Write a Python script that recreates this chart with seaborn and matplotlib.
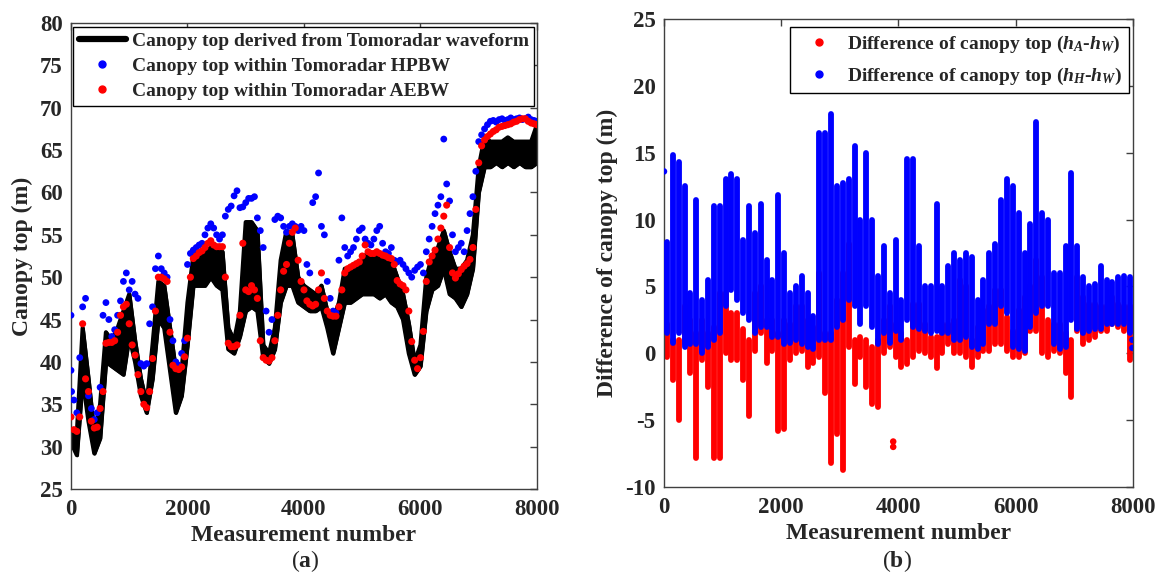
import matplotlib
matplotlib.use("Agg")
import matplotlib.pyplot as plt
import numpy as np
import pandas as pd
import seaborn as sns
from matplotlib.lines import Line2D

# ---------------- Panel (a) data ----------------
meas_100 = list(range(0, 8001, 100))
wave_lo = [30.5, 29.0, 38.0, 33.0, 29.2, 31.0, 40.0, 39.5, 39.0, 38.5, 43.0,
           40.0, 36.0, 34.0, 38.0, 45.0, 44.0, 39.0, 34.0, 36.0, 42.0,
           49.0, 49.0, 49.0, 50.0, 49.0, 48.5, 41.5, 41.0, 43.0, 46.0,
           46.5, 46.0, 40.5, 39.8, 41.5, 47.0, 49.0, 49.0, 47.0, 46.5,
           46.0, 46.0, 46.5, 44.0, 41.0, 44.0, 47.0, 47.0, 47.5, 48.0,
           48.0, 48.0, 47.5, 48.0, 47.0, 46.5, 45.0, 41.0, 38.5, 39.5,
           46.0, 48.5, 49.0, 51.0, 48.0, 47.5, 46.5, 48.0, 51.0, 60.0,
           63.0, 63.0, 63.5, 63.0, 63.5, 63.0, 63.5, 63.0, 63.0, 63.5]
wave_hi = [32.0, 31.5, 44.0, 38.0, 31.5, 35.0, 43.5, 42.5, 44.0, 46.0, 48.0,
           42.5, 38.0, 35.0, 42.0, 49.5, 49.0, 44.0, 39.0, 39.0, 47.0,
           52.5, 53.0, 53.0, 53.5, 53.0, 53.0, 44.0, 42.5, 46.0, 56.5,
           56.5, 55.5, 42.0, 41.0, 44.0, 52.0, 55.5, 55.0, 50.0, 49.0,
           48.5, 48.0, 49.0, 46.0, 45.0, 47.0, 51.0, 51.0, 51.5, 52.0,
           53.0, 52.5, 52.5, 52.5, 52.0, 50.0, 48.0, 44.5, 40.0, 42.0,
           50.0, 52.5, 53.5, 55.5, 53.0, 51.0, 51.0, 52.0, 55.0, 63.0,
           66.5, 66.0, 66.0, 66.0, 66.5, 66.0, 66.0, 66.0, 66.0, 68.0]

meas_50 = list(range(0, 8001, 50))
aebw = [33.5, 32.0, 31.8, 33.5, 44.5, 38.0, 36.5, 33.0, 32.2, 32.3,
        34.5, 36.5, 42.2, 42.3, 42.3, 42.5, 43.5, 45.5, 46.5, 46.8,
        44.5, 42.0, 40.8, 38.5, 36.5, 35.0, 34.6, 36.5, 40.4, 46.0,
        50.0, 50.0, 49.8, 49.5, 43.5, 39.6, 39.2, 39.1, 39.4, 40.6,
        42.8, 50.0, 52.2, 52.5, 52.9, 53.1, 53.5, 54.0, 54.3, 53.8,
        53.6, 53.6, 53.6, 50.0, 42.2, 41.8, 41.8, 42.0, 45.5, 54.0,
        48.5, 48.3, 49.0, 48.5, 47.5, 42.5, 40.5, 40.2, 40.1, 40.5,
        42.5, 45.5, 48.5, 50.7, 51.5, 54.0, 55.3, 55.8, 52.0, 49.5,
        48.5, 47.2, 46.8, 46.6, 46.8, 48.5, 50.5, 47.5, 46.0, 45.5,
        45.4, 45.4, 46.5, 48.5, 50.5, 51.0, 51.2, 51.4, 51.6, 51.8,
        52.5, 53.8, 53.0, 52.8, 52.8, 53.0, 52.8, 52.6, 52.5, 52.3,
        52.2, 51.5, 49.6, 49.2, 49.0, 48.5, 46.0, 42.4, 40.2, 39.2,
        40.5, 43.6, 49.5, 51.8, 52.5, 53.2, 54.5, 55.8, 57.2, 58.5,
        53.5, 50.5, 49.9, 50.4, 50.9, 51.3, 51.6, 52.1, 53.5, 58.0,
        63.5, 65.5, 66.2, 66.6, 66.9, 67.2, 67.4, 67.7, 67.8, 67.9,
        68.0, 68.1, 68.3, 68.4, 68.6, 68.7, 68.7, 68.4, 68.2, 68.1,
        68.0]
hpbw = [39.0, 35.5, 34.0, 40.5, 46.5, 47.5, 36.0, 34.5, 33.2, 34.0,
        37.0, 45.5, 47.0, 45.0, 43.0, 43.8, 45.5, 47.2, 49.5, 50.5,
        48.5, 49.5, 48.0, 47.5, 39.8, 39.5, 39.8, 44.5, 46.5, 51.0,
        52.5, 51.0, 50.5, 50.0, 45.0, 42.5, 40.0, 39.6, 41.0, 42.5,
        51.5, 52.8, 53.2, 53.5, 53.8, 54.0, 55.0, 55.8, 56.3, 55.8,
        55.0, 54.5, 55.0, 57.2, 58.0, 58.4, 59.6, 60.2, 58.2, 58.3,
        58.8, 59.3, 59.3, 59.5, 57.0, 55.5, 53.5, 46.0, 43.5, 45.0,
        56.8, 57.2, 57.0, 56.0, 55.3, 56.0, 56.3, 56.0, 55.5, 56.0,
        55.5, 51.5, 50.5, 58.8, 59.5, 62.3, 56.0, 55.0, 49.5, 47.5,
        46.0, 45.8, 52.0, 57.0, 53.5, 52.5, 53.0, 53.5, 54.5, 55.5,
        55.8, 54.5, 54.0, 53.8, 54.5, 55.5, 56.0, 54.0, 53.0, 52.8,
        53.5, 52.0, 51.8, 52.0, 51.5, 51.0, 50.5, 50.0, 50.8, 51.2,
        51.5, 50.5, 53.0, 54.5, 56.0, 57.5, 58.5, 59.5, 66.3, 61.0,
        59.0, 55.0, 53.0, 53.5, 54.0, 53.0, 55.5, 57.5, 59.5, 62.5,
        66.0, 66.8, 67.5, 68.0, 68.4, 68.5, 68.3, 68.6, 68.7, 68.5,
        68.6, 68.8, 68.6, 68.7, 68.8, 68.6, 68.7, 68.9, 68.6, 68.5,
        68.4]
hpbw_extra_m = [0, 10]
hpbw_extra_v = [45.5, 36.5]

# ---------------- Panel (b) data (per 100-measurement bin) ----------------
bin_center = list(range(50, 8000, 100))
dH_lo = [1.5, 0.8, 1.5, 0.5, 0.7, 0.7, 0.0, 0.5, 1.0, 1.5,
         3.5, 4.7, 4.0, 3.0, 2.5, 1.5, 2.0, 2.0, 1.2, 1.2,
         0.7, 0.8, 1.0, 0.7, 0.5, 0.3, 1.0, 1.0, 1.0, 2.0,
         2.5, 4.0, 3.5, 2.2, 3.5, 2.0, 0.7, 1.5, 0.8, 1.7,
         1.0, 2.5, 2.0, 1.8, 1.7, 1.5, 1.7, 1.5, 1.5, 1.0,
         1.0, 1.2, 0.5, 0.3, 0.7, 2.2, 2.2, 3.5, 3.0, 0.5,
         0.3, 0.2, 2.0, 3.0, 3.5, 3.5, 0.7, 0.3, 0.5, 2.5,
         1.8, 1.5, 1.7, 1.8, 1.8, 2.2, 2.2, 2.2, 2.2, 1.5]
dH_hi = [8.3, 14.8, 14.3, 12.5, 4.5, 11.5, 4.0, 5.5, 11.0, 11.0,
         13.0, 13.4, 13.0, 8.5, 11.0, 9.0, 11.2, 7.0, 5.5, 11.8,
         7.5, 4.5, 5.0, 5.8, 4.5, 2.8, 16.5, 16.5, 17.9, 12.5,
         12.7, 13.0, 15.5, 10.0, 15.0, 10.0, 5.8, 8.0, 4.5, 8.5,
         4.0, 14.5, 14.5, 8.0, 5.0, 5.0, 11.2, 5.0, 6.5, 7.5,
         7.0, 7.5, 7.2, 4.0, 5.5, 7.5, 8.2, 11.5, 13.0, 12.5,
         10.5, 7.5, 9.7, 17.3, 10.5, 10.0, 6.0, 6.0, 8.0, 13.5,
         8.0, 5.7, 5.0, 5.2, 6.5, 5.5, 5.3, 5.7, 5.8, 5.7]
dA_lo = [-0.3, -2.0, -5.0, 0.7, -1.5, -7.8, -0.5, -2.5, -7.8, -7.8,
         0.0, -0.5, -0.5, -2.0, -4.7, 0.2, 1.5, -0.7, 0.2, -5.8,
         -5.7, -0.5, 0.0, 0.2, -1.0, -0.7, -0.3, -3.0, -8.2, -6.0,
         -8.7, 0.5, -2.3, -0.3, -2.5, -3.8, -4.0, 0.0, 0.5, -0.3,
         -1.0, -0.8, -0.3, 0.2, 0.0, -0.3, -1.1, 0.0, 0.7, 0.0,
         0.0, -0.3, -1.0, -0.3, 0.2, 0.2, 0.7, 0.7, 0.2, -0.3,
         -0.3, 0.0, 1.7, 1.7, 0.0, -0.3, 0.2, 0.0, -1.5, -3.3,
         1.7, 0.7, 1.0, 1.2, 1.7, 1.7, 2.2, 2.0, 1.7, -0.5]
dA_hi = [2.2, 1.0, 1.0, 3.5, 2.5, 1.5, 2.5, 1.5, 2.0, 4.5,
         4.5, 3.0, 3.0, 1.8, 1.0, 4.5, 5.0, 2.5, 2.5, 1.5,
         2.5, 2.2, 3.5, 3.5, 2.5, 2.0, 6.0, 1.5, 1.5, 4.0,
         6.0, 8.2, 1.0, 1.2, 1.0, 0.5, 1.0, 2.5, 3.5, 2.2,
         1.5, 1.0, 3.7, 3.7, 2.2, 1.2, 1.2, 2.2, 2.2, 2.5,
         5.5, 5.0, 1.0, 2.0, 3.2, 3.5, 4.7, 4.7, 2.7, 1.7,
         3.2, 4.2, 5.0, 7.0, 5.7, 2.5, 2.2, 2.2, 1.5, 1.0,
         5.7, 4.2, 3.7, 3.7, 3.5, 3.5, 4.2, 3.7, 3.5, 3.5]
dH_extra_m = [0, 7990, 7990]
dH_extra_v = [13.6, 1.0, 0.4]
dA_extra_m = [3910, 3910]
dA_extra_v = [-6.6, -7.0]

xticks = [0, 2000, 4000, 6000, 8000]
yticks_a = list(range(25, 81, 5))
yticks_b = list(range(-10, 26, 5))

# ---------------- Style ----------------
sns.set_theme(style="white")
plt.rcParams.update({
    "font.family": ["Liberation Serif", "DejaVu Serif"],
    "font.weight": "bold",
    "axes.labelweight": "bold",
    "mathtext.fontset": "custom",
    "mathtext.rm": "Liberation Serif:bold",
    "mathtext.it": "Liberation Serif:italic:bold",
    "mathtext.bf": "Liberation Serif:bold",
    "axes.unicode_minus": False,
})
TXT = "#262626"
SPINE = "#404040"

fig = plt.figure(figsize=(11.6, 5.84), dpi=100)
axA = fig.add_axes([0.0612, 0.1627, 0.4017, 0.7979])
axB = fig.add_axes([0.5724, 0.1661, 0.4043, 0.8014])

# ---- Panel (a)
axA.fill_between(meas_100, wave_lo, wave_hi, color="black", lw=2.5,
                 edgecolor="black", zorder=2)
sns.lineplot(x=meas_100, y=wave_lo, ax=axA, color="black", lw=3, zorder=2)
sns.lineplot(x=meas_100, y=wave_hi, ax=axA, color="black", lw=3, zorder=2)
sns.scatterplot(x=meas_50, y=hpbw, ax=axA, color="blue", s=24,
                edgecolor="none", linewidth=0, zorder=3)
sns.scatterplot(x=hpbw_extra_m, y=hpbw_extra_v, ax=axA, color="blue", s=24,
                edgecolor="none", linewidth=0, zorder=3)
sns.scatterplot(x=meas_50, y=aebw, ax=axA, color="red", s=26,
                edgecolor="none", linewidth=0, zorder=4)

# ---- Panel (b)
dfb = pd.DataFrame({"m": bin_center, "a_lo": dA_lo, "a_hi": dA_hi,
                    "h_lo": dH_lo, "h_hi": dH_hi})
lcA = axB.vlines(dfb["m"], dfb["a_lo"], dfb["a_hi"], color="red", lw=4.2, zorder=2)
lcA.set_capstyle("round")
sns.scatterplot(x=dA_extra_m, y=dA_extra_v, ax=axB, color="red", s=22,
                edgecolor="none", linewidth=0, zorder=2)
lcH = axB.vlines(dfb["m"], dfb["h_lo"], dfb["h_hi"], color="blue", lw=4.2, zorder=3)
lcH.set_capstyle("round")
sns.scatterplot(x=dH_extra_m, y=dH_extra_v, ax=axB, color="blue", s=22,
                edgecolor="none", linewidth=0, zorder=3)

for ax, yt, ylab in [(axA, yticks_a, "Canopy top (m)"),
                     (axB, yticks_b, "Difference of canopy top (m)")]:
    ax.set_xlim(0, 8000)
    ax.set_ylim(yt[0], yt[-1])
    ax.set_xticks(xticks)
    ax.set_yticks(yt)
    ax.set_xticklabels([str(v) for v in xticks])
    ax.set_yticklabels([str(v) for v in yt])
    ax.tick_params(direction="in", top=True, right=True, length=5, width=1,
                   color=SPINE, labelcolor=TXT, labelsize=16.5, pad=6)
    ax.tick_params(axis="x", pad=7)
    for sp in ax.spines.values():
        sp.set_visible(True)
        sp.set_color(SPINE)
        sp.set_linewidth(1.0)
    ax.set_xlabel("Measurement number", fontsize=17, color=TXT, labelpad=4)
    ax.set_ylabel(ylab, fontsize=17, color=TXT, labelpad=5)
    for lab in ax.get_xticklabels() + ax.get_yticklabels():
        lab.set_fontweight("bold")

# legends
hA = [Line2D([], [], color="black", lw=4.5),
      Line2D([], [], color="blue", marker="o", ls="none", markersize=5),
      Line2D([], [], color="red", marker="o", ls="none", markersize=5)]
lA = axA.legend(hA, ["Canopy top derived from Tomoradar waveform",
                     "Canopy top within Tomoradar HPBW",
                     "Canopy top within Tomoradar AEBW"],
                loc="upper left", bbox_to_anchor=(0.005, 0.992), fontsize=14,
                frameon=True, fancybox=False, framealpha=1, edgecolor="black",
                handlelength=2.4, handletextpad=0.3, borderpad=0.3,
                labelspacing=0.38, borderaxespad=0.0)
lA.get_frame().set_linewidth(1.0)
for t in lA.get_texts():
    t.set_color(TXT)

hB = [Line2D([], [], color="red", marker="o", ls="none", markersize=5),
      Line2D([], [], color="blue", marker="o", ls="none", markersize=5)]
lB = axB.legend(hB, [r"Difference of canopy top ($h_A$-$h_W$)",
                     r"Difference of canopy top ($h_H$-$h_W$)"],
                loc="upper right", bbox_to_anchor=(0.992, 0.983), fontsize=14,
                frameon=True, fancybox=False, framealpha=1, edgecolor="black",
                handlelength=2.3, handletextpad=0.3, borderpad=0.35,
                labelspacing=0.55, borderaxespad=0.0)
lB.get_frame().set_linewidth(1.0)
for t in lB.get_texts():
    t.set_color(TXT)

fig.text(0.263, 0.040, r"($\mathbf{a}$)", fontsize=17, fontweight="normal",
         color=TXT, ha="center", va="center")
fig.text(0.773, 0.040, r"($\mathbf{b}$)", fontsize=17, fontweight="normal",
         color=TXT, ha="center", va="center")

fig.savefig("out.png", dpi=100)
